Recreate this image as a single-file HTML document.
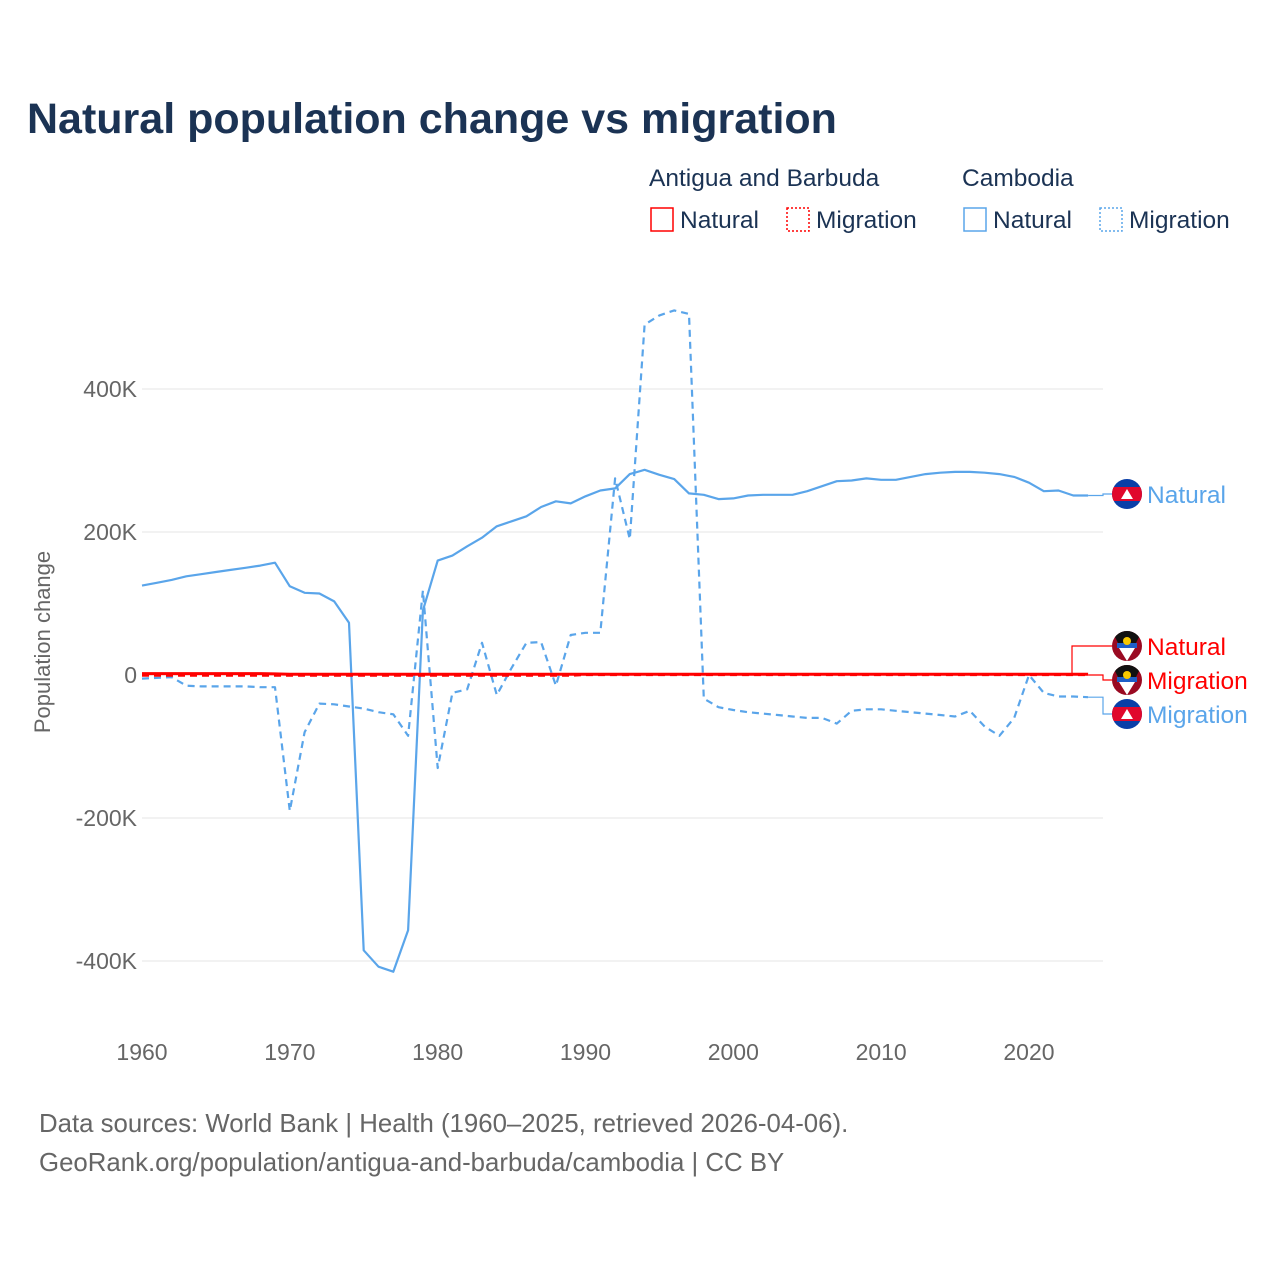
<!DOCTYPE html>
<html><head><meta charset="utf-8">
<style>
body{margin:0;background:#fff;}
svg text{font-family:"Liberation Sans",sans-serif;}
</style></head>
<body>
<svg id="chart" width="1280" height="1280" viewBox="0 0 1280 1280" xmlns="http://www.w3.org/2000/svg">
<defs><clipPath id="fc"><circle cx="0" cy="0" r="15"/></clipPath></defs>
<rect width="1280" height="1280" fill="#fff"/>
<text x="27" y="133" font-size="43" font-weight="bold" fill="#1b3354">Natural population change vs migration</text>
<g font-size="24.5" fill="#1b3354">
<text x="649" y="186">Antigua and Barbuda</text>
<text x="962" y="186">Cambodia</text>
<g><rect x="651" y="208" width="22" height="23" fill="none" stroke="#ff0000" stroke-width="1.5"/><text x="680" y="228">Natural</text></g>
<g><rect x="787" y="208" width="22" height="23" fill="none" stroke="#ff0000" stroke-width="1.5" stroke-dasharray="2,2"/><text x="816" y="228">Migration</text></g>
<g><rect x="964" y="208" width="22" height="23" fill="none" stroke="#5aa5ea" stroke-width="1.5"/><text x="993" y="228">Natural</text></g>
<g><rect x="1100" y="208" width="22" height="23" fill="none" stroke="#5aa5ea" stroke-width="1.5" stroke-dasharray="2,2"/><text x="1129" y="228">Migration</text></g>
</g>
<g id="grid"></g>
<g id="axes"></g>
<g id="series"></g>
<g id="labels"></g>
<text transform="translate(50,642) rotate(-90)" text-anchor="middle" font-size="22" fill="#666">Population change</text>
<text x="39" y="1132" font-size="25.8" fill="#666">Data sources: World Bank | Health (1960–2025, retrieved 2026-04-06).</text>
<text x="39" y="1171" font-size="25.8" fill="#666">GeoRank.org/population/antigua-and-barbuda/cambodia | CC BY</text>
</svg>
<script>
const years=[];for(let y=1960;y<=2024;y++)years.push(y);
const cambodiaNatural=[125,129,133,138,141,144,147,150,153,157,124,115,114,103,73,-385,-408,-415,-357,90,160,167,180,192,208,215,222,235,243,240,250,258,261,281,287,280,274,254,252,246,247,251,252,252,252,257,264,271,272,275,273,273,277,281,283,284,284,283,281,277,269,257,258,251,251];
const cambodiaMigration=[-5,-4,-3,-15,-16,-16,-16,-16,-17,-17,-190,-80,-40,-41,-44,-47,-52,-55,-85,118,-130,-25,-20,45,-28,10,45,46,-15,56,59,59,275,190,490,503,510,505,-33,-45,-49,-52,-54,-56,-58,-60,-60,-68,-50,-48,-48,-50,-52,-54,-56,-58,-50,-72,-85,-60,0,-25,-30,-30,-31];
const antiguaNatural=[2,2,2,2,2,2,2,2,2,1.5,1,1,1,1,1,1,1,1,1,1,1,1,1,1,1,1,1,1,1,1,1,1,1,1,1,1,1,1,1,1,1,1,1,1,1,1,1,1,1,1,1,1,1,1,1,1,1,1,1,1,1,1,1,1,1];
const antiguaMigration=[-1,-1,-1,-1,-1,-1,-1,-1,-1,-1,-1,-1,-1,-1,-1,-1,-1,-1,-1,-1,-1,-1,-1,-1,-1,-1,-1,-1,-1,-1,0,0,0,0,0,0,0,0,0,0,0,0,0,0,0,0,0,0,0,0,0,0,0,0,0,0,0,0,0,0,0,0,0,0,0];
const yTicks=[400,200,0,-200,-400];
const yTickLabels=["400K","200K","0","-200K","-400K"];
const xTicks=[1960,1970,1980,1990,2000,2010,2020];
const NS="http://www.w3.org/2000/svg";
const X=y=>142+(y-1960)*14.783;
const Y=v=>675-v*0.715;
function mk(tag,attrs,parent){const e=document.createElementNS(NS,tag);for(const k in attrs)e.setAttribute(k,attrs[k]);parent.appendChild(e);return e;}
const grid=document.getElementById('grid'),axes=document.getElementById('axes'),series=document.getElementById('series'),labels=document.getElementById('labels');
yTicks.forEach((t,i)=>{
 const l=mk('line',{x1:142,x2:1103,y1:Y(t),y2:Y(t),stroke:'#e6e6e6','stroke-width':1},grid);
 
 
 const tx=mk('text',{x:137,y:Y(t)+8,'text-anchor':'end','font-size':23,fill:'#666'},axes);
 tx.textContent=yTickLabels[i];
 
 
});
xTicks.forEach(t=>{
 const tx=mk('text',{x:X(t),y:1060,'text-anchor':'middle','font-size':23,fill:'#666'},axes);
 tx.textContent=t;
 
 
});
function line(vals,color,dash,w,name){
 const d=vals.map((v,i)=>(i?'L':'M')+X(years[i]).toFixed(1)+','+Y(v).toFixed(1)).join(' ');
 const p=mk('path',{d:d,fill:'none',stroke:color,'stroke-width':w,'stroke-dasharray':dash,'stroke-linejoin':'round'},series);
 
 
}
line(cambodiaNatural,'#5aa5ea','none',2.2,'line-cambodia-natural');
line(cambodiaMigration,'#5aa5ea','7,5',2.2,'line-cambodia-migration');
line(antiguaMigration,'#ff0000','7,5',2.2,'line-antigua-migration');
line(antiguaNatural,'#ff0000','none',3,'line-antigua-natural');
const lastX=X(2024);
const endLabels=[
 {v:cambodiaNatural[64],ly:494,color:'#5aa5ea',txt:'Natural',flag:'kh',ex:1103,n:'end-label-cambodia-natural'},
 {v:antiguaNatural[64],ly:646,color:'#ff0000',txt:'Natural',flag:'ag',ex:1072,n:'end-label-antigua-natural'},
 {v:antiguaMigration[64],ly:680,color:'#ff0000',txt:'Migration',flag:'ag',ex:1103,n:'end-label-antigua-migration'},
 {v:cambodiaMigration[64],ly:714,color:'#5aa5ea',txt:'Migration',flag:'kh',ex:1103,n:'end-label-cambodia-migration'}];
endLabels.forEach(e=>{
 const g=mk('g',{},labels);
 
 
 const sy=Y(e.v);
 const sx=Math.min(lastX,e.ex);
 mk('path',{d:`M${sx},${sy} L${e.ex},${sy} L${e.ex},${e.ly} L1112,${e.ly}`,fill:'none',stroke:e.color,'stroke-width':1.2},g);
 const f=mk('g',{transform:'translate(1127,'+e.ly+')','clip-path':'url(#fc)'},g);
 if(e.flag==='kh'){
  mk('rect',{x:-15,y:-15,width:30,height:30,fill:'#0a3fa8'},f);
  mk('rect',{x:-15,y:-7,width:30,height:14,fill:'#e0082d'},f);
  mk('path',{d:'M-6,5 L0,-5 L6,5Z',fill:'#fff'},f);
 }else{
  mk('rect',{x:-15,y:-15,width:30,height:30,fill:'#9a0a22'},f);
  mk('path',{d:'M-15,-15 L15,-15 L0,15Z',fill:'#111'},f);
  mk('rect',{x:-10,y:-3,width:20,height:5,fill:'#1e5fc8'},f);
  mk('path',{d:'M-8,2 L8,2 L0,15Z',fill:'#fff'},f);
  mk('circle',{cx:0,cy:-5,r:4,fill:'#f8c800'},f);
 }
 const t=mk('text',{x:1147,y:e.ly+9,'font-size':24.5,fill:e.color},g);
 t.textContent=e.txt;
});
</script>
</body></html>
